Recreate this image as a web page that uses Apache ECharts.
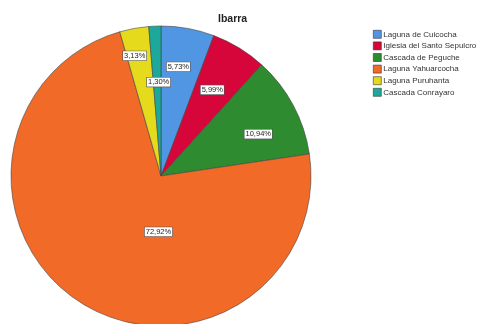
<!DOCTYPE html>
<html><head><meta charset="utf-8">
<script src="https://cdn.jsdelivr.net/npm/echarts@6/dist/echarts.min.js"></script>
<style>html,body{margin:0;padding:0;background:#fff}#c{width:479px;height:324px}</style>
</head><body><div id="c"></div>
<script>
const categories = ['Laguna de Cuicocha','Iglesia del Santo Sepulcro','Cascada de Peguche','Laguna Yahuarcocha','Laguna Puruhanta','Cascada Conrayaro'];
const values = [5.73, 5.99, 10.94, 72.92, 3.13, 1.30];
const colors = ['#5196E3','#D7063A','#2F8B2F','#F26A28','#E5DA1C','#1CA99B'];
const labelShift = [[-2,-3],[-5,6],[2,9],[56,-35],[-7,-14],[2,14]];
const chart = echarts.init(document.getElementById('c'));
const fmt = v => v.toFixed(2).replace('.', ',') + '%';
const data = categories.map((n,i)=>({name:n,value:values[i],itemStyle:{color:colors[i]}}));
chart.setOption({
  animation:false,
  title:{text:'Ibarra',left:213,top:9,textStyle:{fontFamily:'Liberation Sans',fontSize:10.5,fontWeight:'bold',color:'#222'}},
  legend:{orient:'vertical',left:368,top:25,itemWidth:8,itemHeight:8,itemGap:3,icon:'rect',
    textStyle:{fontFamily:'Liberation Sans',fontSize:8,color:'#333',padding:[0,0,0,-3]},
    itemStyle:{borderColor:'#333',borderWidth:0.6},
    data:categories},
  series:[
    {type:'pie',radius:150,center:[161,176],startAngle:90,clockwise:true,silent:true,
     label:{show:false},labelLine:{show:false},
     itemStyle:{borderColor:'#444',borderWidth:0.6},data:data},
    {type:'pie',radius:[60,150],center:[161,176],startAngle:90,clockwise:true,silent:true,
     legendHoverLink:false,
     itemStyle:{color:'rgba(0,0,0,0)',borderWidth:0},
     label:{show:true,position:'inside',formatter:p=>fmt(p.value),fontFamily:'Liberation Sans',fontSize:7.5,color:'#222',
       backgroundColor:'#fff',borderColor:'#555',borderWidth:0.6,padding:[1,1,0,1]},
     labelLayout:p=>({dx:labelShift[p.dataIndex][0],dy:labelShift[p.dataIndex][1]}),
     labelLine:{show:false},
     data:categories.map((n,i)=>({name:n+' ',value:values[i]}))}
  ]
});
</script></body></html>
